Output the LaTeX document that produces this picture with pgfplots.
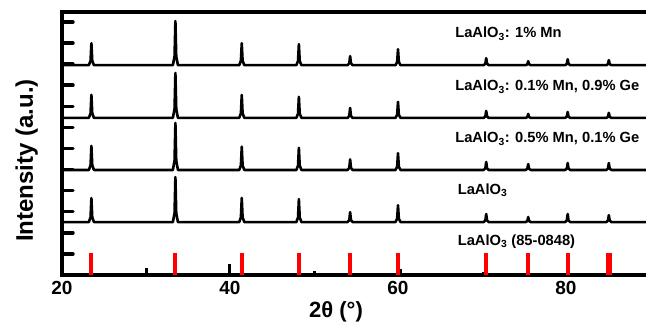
\documentclass[border=0pt]{standalone}
\usepackage{pgfplots}
\pgfplotsset{compat=1.18}
\usepackage{fontspec}
\setmainfont{Liberation Sans}
\definecolor{xred}{RGB}{255,0,0}
\pgfplotstableread{
x y
20 9.95
23.2 9.95
23.4 10.16
23.5 10.99
23.6 10.16
23.8 9.95
33.2 9.95
33.4 10.37
33.5 12.04
33.6 10.37
33.8 9.95
41.1 9.95
41.3 10.16
41.4 10.99
41.5 10.16
41.7 9.95
47.9 9.95
48.1 10.15
48.2 10.95
48.3 10.15
48.5 9.95
54.0 9.95
54.2 10.04
54.3 10.38
54.4 10.04
54.6 9.95
59.7 9.95
59.9 10.10
60.0 10.71
60.1 10.10
60.3 9.95
70.2 9.95
70.4 10.02
70.5 10.28
70.6 10.02
70.8 9.95
75.2 9.95
75.4 9.99
75.5 10.14
75.6 9.99
75.8 9.95
79.9 9.95
80.1 10.01
80.2 10.23
80.3 10.01
80.5 9.95
84.8 9.95
85.0 10.00
85.1 10.19
85.2 10.00
85.4 9.95
90 9.95
}\specA
\pgfplotstableread{
x y
20 7.45
23.2 7.45
23.4 7.67
23.5 8.54
23.6 7.67
23.8 7.45
33.2 7.45
33.4 7.88
33.5 9.58
33.6 7.88
33.8 7.45
41.1 7.45
41.3 7.67
41.4 8.54
41.5 7.67
41.7 7.45
47.9 7.45
48.1 7.65
48.2 8.45
48.3 7.65
48.5 7.45
54.0 7.45
54.2 7.54
54.3 7.92
54.4 7.54
54.6 7.45
59.7 7.45
59.9 7.60
60.0 8.21
60.1 7.60
60.3 7.45
70.2 7.45
70.4 7.52
70.5 7.78
70.6 7.52
70.8 7.45
75.2 7.45
75.4 7.49
75.5 7.64
75.6 7.49
75.8 7.45
79.9 7.45
80.1 7.51
80.2 7.73
80.3 7.51
80.5 7.45
84.8 7.45
85.0 7.50
85.1 7.69
85.2 7.50
85.4 7.45
90 7.45
}\specB
\pgfplotstableread{
x y
20 4.98
23.2 4.98
23.4 5.21
23.5 6.12
23.6 5.21
23.8 4.98
33.2 4.98
33.4 5.43
33.5 7.21
33.6 5.43
33.8 4.98
41.1 4.98
41.3 5.20
41.4 6.08
41.5 5.20
41.7 4.98
47.9 4.98
48.1 5.19
48.2 6.03
48.3 5.19
48.5 4.98
54.0 4.98
54.2 5.08
54.3 5.48
54.4 5.08
54.6 4.98
59.7 4.98
59.9 5.14
60.0 5.78
60.1 5.14
60.3 4.98
70.2 4.98
70.4 5.06
70.5 5.36
70.6 5.06
70.8 4.98
75.2 4.98
75.4 5.04
75.5 5.26
75.6 5.04
75.8 4.98
79.9 4.98
80.1 5.05
80.2 5.31
80.3 5.05
80.5 4.98
84.8 4.98
85.0 5.05
85.1 5.31
85.2 5.05
85.4 4.98
90 4.98
}\specC
\pgfplotstableread{
x y
20 2.51
23.2 2.51
23.4 2.74
23.5 3.65
23.6 2.74
23.8 2.51
33.2 2.51
33.4 2.94
33.5 4.64
33.6 2.94
33.8 2.51
41.1 2.51
41.3 2.74
41.4 3.65
41.5 2.74
41.7 2.51
47.9 2.51
48.1 2.73
48.2 3.60
48.3 2.73
48.5 2.51
54.0 2.51
54.2 2.60
54.3 2.98
54.4 2.60
54.6 2.51
59.7 2.51
59.9 2.67
60.0 3.31
60.1 2.67
60.3 2.51
70.2 2.51
70.4 2.59
70.5 2.89
70.6 2.59
70.8 2.51
75.2 2.51
75.4 2.56
75.5 2.75
75.6 2.56
75.8 2.51
79.9 2.51
80.1 2.59
80.2 2.89
80.3 2.59
80.5 2.51
84.8 2.51
85.0 2.58
85.1 2.84
85.2 2.58
85.4 2.51
90 2.51
}\specD
\pgfplotstableread{
x y
23.5 1.04
33.5 1.04
41.4 1.04
48.2 1.04
54.3 1.04
60.0 1.04
70.5 1.04
75.5 1.04
80.2 1.04
85.0 1.04
85.2 1.04
89.9 1.04
}\refred
\pgfplotstableread{
x y
30.1 0.33
40.0 0.52
50.1 0.20
60.3 0.28
70.2 0.14
}\refblack
\begin{document}
\begin{tikzpicture}
\clip (0pt,0pt) rectangle (646pt,325pt);
\begin{axis}[
  at={(62pt,50pt)}, anchor=south west,
  scale only axis, width=588pt, height=263pt,
  xmin=20, xmax=90, ymin=0, ymax=12.47,
  axis line style={line width=3.6pt},
  xtick={20,40,60,80},
  ytick={1,2,3,4,5,6,7,8,9,10,11,12},
  yticklabels={},
  tick align=inside, ytick pos=left, xtick pos=bottom,
  major tick length=11pt,
  every tick/.style={line width=3.4pt, black, line cap=round},
  x tick style={draw=none},
  xticklabel style={font=\fontsize{19}{19}\selectfont\bfseries, yshift=-3pt},
  /pgf/number format/assume math mode=true,
  xlabel={2θ (°)},
  xlabel style={at={(rel axis cs:0.466,-0.160)}, anchor=base, font=\fontsize{22}{22}\selectfont\bfseries},
  ylabel={Intensity (a.u.)},
  ylabel style={at={(rel axis cs:-0.0599,0.435)}, anchor=center, font=\fontsize{24}{24}\selectfont\bfseries},
  clip=true,
]
\addplot[black, line width=2.6pt, line join=round] table[x=x,y=y] {\specA};
\addplot[black, line width=2.6pt, line join=round] table[x=x,y=y] {\specB};
\addplot[black, line width=2.6pt, line join=round] table[x=x,y=y] {\specC};
\addplot[black, line width=2.6pt, line join=round] table[x=x,y=y] {\specD};
\addplot[black, ycomb, line width=3pt] table[x=x,y=y] {\refblack};
\addplot[xred, ycomb, line width=4pt] table[x=x,y=y] {\refred};
\node[anchor=base west, font=\fontsize{14.7}{15}\selectfont\bfseries] at (axis cs:66.4,11.24) {LaAlO\textsubscript{3}: 1\% Mn};
\node[anchor=base west, font=\fontsize{14.7}{15}\selectfont\bfseries] at (axis cs:66.4,8.73) {LaAlO\textsubscript{3}: 0.1\% Mn, 0.9\% Ge};
\node[anchor=base west, font=\fontsize{14.7}{15}\selectfont\bfseries] at (axis cs:66.4,6.26) {LaAlO\textsubscript{3}: 0.5\% Mn, 0.1\% Ge};
\node[anchor=base west, font=\fontsize{14.7}{15}\selectfont\bfseries] at (axis cs:66.7,3.84) {LaAlO\textsubscript{3}};
\node[anchor=base west, font=\fontsize{14.7}{15}\selectfont\bfseries] at (axis cs:66.7,1.42) {LaAlO\textsubscript{3} (85-0848)};
\end{axis}
\end{tikzpicture}
\end{document}
